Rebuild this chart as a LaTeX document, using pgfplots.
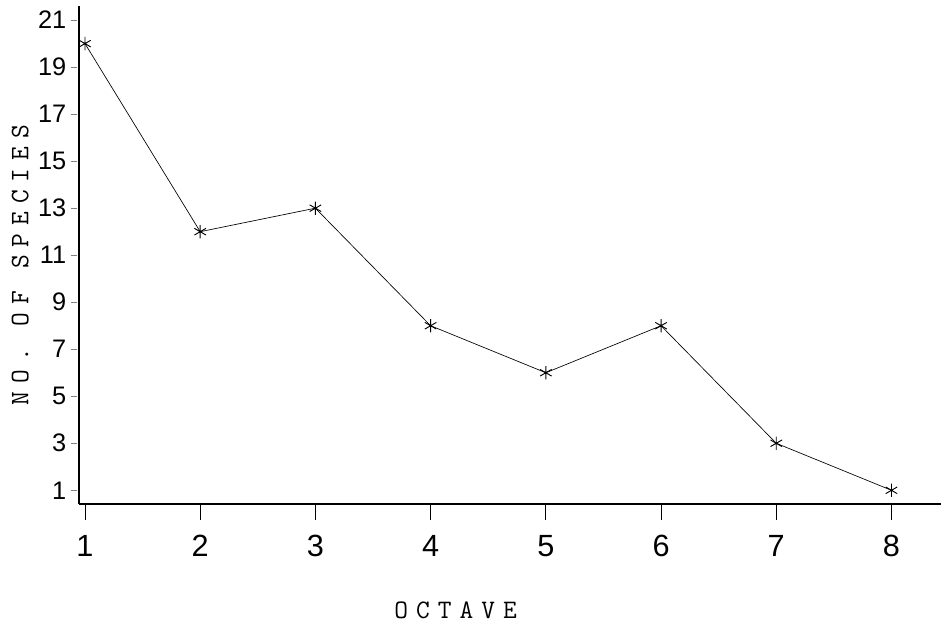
\documentclass[border=0pt]{standalone}
\usepackage{fontspec}
\setmainfont{Liberation Sans}
\newfontfamily\mono[LetterSpace=30]{Latin Modern Mono}
\usepackage{pgfplots}
\pgfplotsset{compat=1.18}

\begin{document}
\begin{tikzpicture}
\begin{axis}[
  scale only axis,
  width=646.5pt, height=373.5pt,
  xmin=0.948, xmax=8.43,
  ymin=0.417, ymax=21.6,
  axis lines*=left,
  axis line style={line width=1.1pt},
  xtick={1,...,8}, ytick={1,3,...,21},
  tick align=outside,
  major tick length=12pt,
  tick style={draw=none},
  /pgf/number format/assume math mode=true,
  xticklabel style={font=\fontsize{23}{26}\selectfont, yshift=-8pt},
  yticklabel style={font=\fontsize{19}{22}\selectfont, xshift=6pt},
  xlabel={OCTAVE}, ylabel={NO. OF SPECIES},
  xlabel style={font=\mono\fontsize{20}{22}\selectfont, at={(axis description cs:0.437,0)}, anchor=center, yshift=-79.5pt},
  ylabel style={font=\mono\fontsize{20}{22}\selectfont, at={(axis description cs:0,0.48)}, anchor=center, yshift=44pt},
  clip=false,
]
\addplot[black, line width=0.5pt, mark=asterisk, mark size=5pt, mark options={line width=0.7pt}]
  coordinates {(1,20) (2,12) (3,13) (4,8) (5,6) (6,8) (7,3) (8,1)};
% tick marks drawn by hand
\pgfplotsinvokeforeach{1,2,3,4,5,6,7,8}{
  \draw[line width=0.6pt] (axis cs:#1,0.417) -- ++(0pt,-12pt);
}
\pgfplotsinvokeforeach{1,3,5,7,9,11,13,15,17,19,21}{
  \draw[line width=0.5pt, gray] ([xshift=-1.5pt]axis cs:0.948,#1) -- ++(-4.5pt,0pt);
}
\coordinate (bl) at (rel axis cs:0,0);
\coordinate (tr) at (rel axis cs:1,1);
\end{axis}
\pgfresetboundingbox
\path ([xshift=-59.25pt,yshift=-90pt]bl) rectangle ([yshift=4.5pt]tr);
\end{tikzpicture}
\end{document}
